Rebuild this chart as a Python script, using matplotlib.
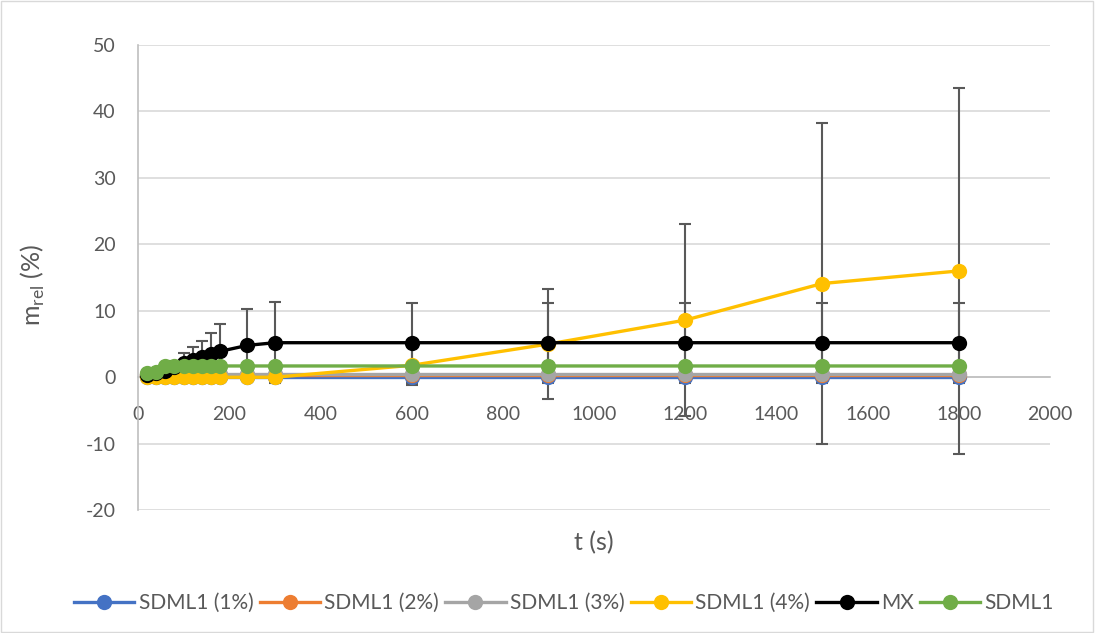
import numpy as np
import matplotlib.pyplot as plt
from matplotlib.patches import Rectangle
from matplotlib.lines import Line2D

# ===== DATOS =====
t = [20, 40, 60, 80, 100, 120, 140, 160, 180, 240, 300, 600, 900, 1200, 1500, 1800]

sdml1_1 = [0.1] * 16
sdml1_2 = [0.3] * 16
sdml1_3 = [0.5] * 16
sdml1_4 = [0.0, 0.0, 0.0, 0.0, 0.0, 0.0, 0.0, 0.0, 0.0, 0.0, 0.0, 1.8, 5.0, 8.6, 14.1, 16.0]
mx = [0.4, 0.6, 1.0, 1.5, 2.1, 2.6, 3.0, 3.5, 3.9, 4.8, 5.2, 5.2, 5.2, 5.2, 5.2, 5.2]
sdml1 = [0.6, 0.8, 1.7, 1.7, 1.7, 1.7, 1.7, 1.7, 1.7, 1.7, 1.7, 1.7, 1.7, 1.7, 1.7, 1.7]

err_1 = [0.2] * 16
err_2 = [0.2] * 16
err_3 = [0.2] * 11 + [0.8] * 5
err_4 = [0.1] * 11 + [3.0, 8.3, 14.4, 24.2, 27.5]
err_mx = [0.2, 0.3, 0.6, 1.0, 1.5, 2.0, 2.4, 3.2, 4.1, 5.4, 6.1, 6.0, 6.0, 6.0, 6.0, 6.0]
err_sdml1 = [0.2] * 16

etiquetas = ["SDML1 (1%)", "SDML1 (2%)", "SDML1 (3%)", "SDML1 (4%)", "MX", "SDML1"]
colores = ["#4472C4", "#ED7D31", "#A5A5A5", "#FFC000", "#000000", "#70AD47"]

series = [sdml1_1, sdml1_2, sdml1_3, sdml1_4, mx, sdml1]
errores = [err_1, err_2, err_3, err_4, err_mx, err_sdml1]

plt.rcParams['font.family'] = ['Lato', 'DejaVu Sans']
plt.rcParams['axes.unicode_minus'] = False

fig = plt.figure(figsize=(10.95, 6.33), dpi=100)
ax = fig.add_axes([0.126, 0.194, 0.833, 0.735])

# borde exterior
fig.patches.append(Rectangle((0.001, 0.001), 0.997, 0.997, transform=fig.transFigure,
                             fill=False, edgecolor="#d9d9d9", linewidth=1))

# barras de error
for y, e in zip(series, errores):
    ax.errorbar(t, y, yerr=e, fmt='none', ecolor="#595959", elinewidth=1.5,
                capsize=4.5, capthick=1.5, zorder=2)

# lineas
handles = []
for i, (y, c, lab) in enumerate(zip(series, colores, etiquetas)):
    ax.plot(t, y, color=c, linewidth=2.4, marker='o', markersize=11,
            markeredgewidth=0, zorder=3 + i)
    handles.append(Line2D([], [], color=c, linewidth=2.4, marker='o',
                          markersize=11, markeredgewidth=0, label=lab))

ax.set_xlim(0, 2000)
ax.set_ylim(-20, 50)
ax.set_xticks(np.arange(0, 2001, 200))
ax.set_yticks(np.arange(-20, 51, 10))

ax.grid(axis='y', color="#d9d9d9", linewidth=1.2)
ax.set_axisbelow(True)

for s in ['top', 'right']:
    ax.spines[s].set_visible(False)
ax.spines['bottom'].set_position(('data', 0))
ax.spines['bottom'].set_color("#bfbfbf")
ax.spines['left'].set_color("#bfbfbf")
ax.spines['bottom'].set_linewidth(1.2)
ax.spines['left'].set_linewidth(1.2)

ax.tick_params(length=0, labelsize=14, labelcolor="#595959")
ax.tick_params(axis='x', pad=21)
ax.tick_params(axis='y', pad=16)

ax.set_xlabel("t (s)", fontsize=18, color="#595959")
ax.xaxis.set_label_coords(0.5, -0.045)
ax.set_ylabel(r"m$_{\mathregular{rel}}$ (%)", fontsize=18, color="#595959")
ax.yaxis.set_label_coords(-0.1, 0.485)

fig.legend(handles=handles, loc='center', bbox_to_anchor=(0.515, 0.047), ncol=6,
           frameon=False, fontsize=15, handlelength=2.9, columnspacing=0.3,
           handletextpad=0.2, labelcolor="#595959")

fig.savefig("out.png", dpi=100)
